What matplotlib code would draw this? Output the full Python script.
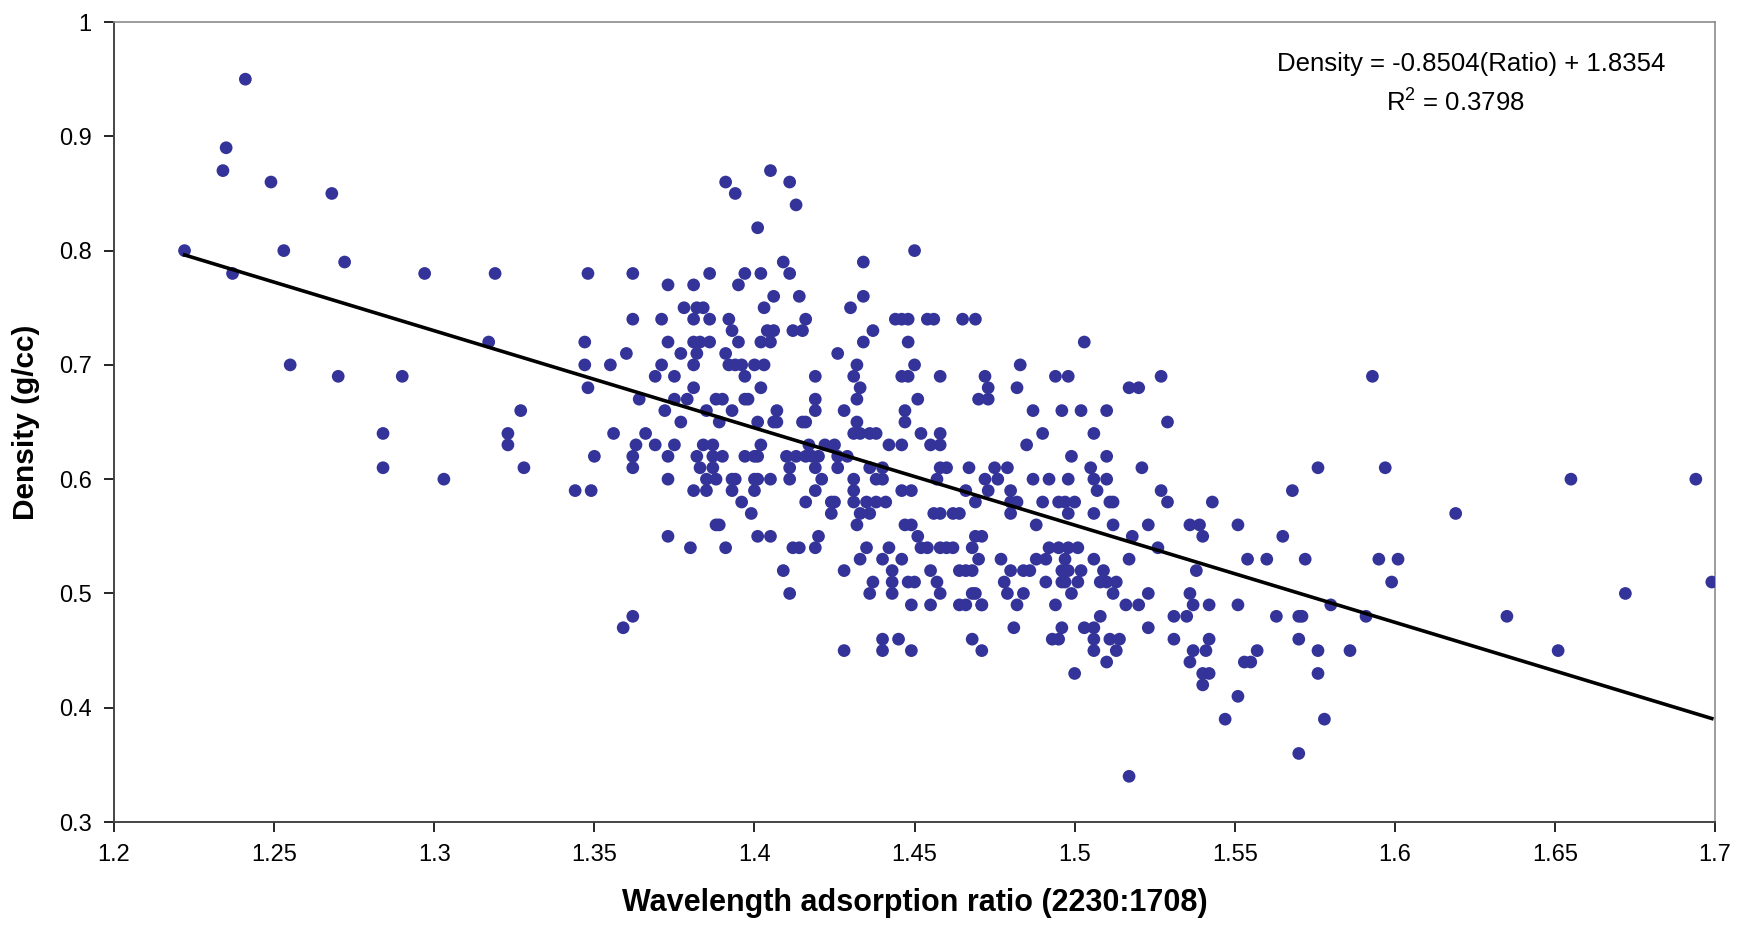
import matplotlib
matplotlib.use('Agg')
import matplotlib.pyplot as plt
import numpy as np

plt.rcParams['font.family'] = ['Liberation Sans', 'DejaVu Sans']

# absorption ratio (2230:1708) and measured density, one line per density step
ratio = [
    1.241,
    1.235,
    1.234, 1.405,
    1.249, 1.391, 1.411,
    1.268, 1.394,
    1.413,
    1.401,
    1.222, 1.253, 1.450,
    1.272, 1.409, 1.434,
    1.237, 1.297, 1.319, 1.348, 1.362, 1.386, 1.397, 1.402, 1.411,
    1.373, 1.381, 1.395,
    1.406, 1.414, 1.434,
    1.378, 1.382, 1.384, 1.403, 1.430,
    1.362, 1.371, 1.381, 1.386, 1.392, 1.416, 1.444, 1.446, 1.448, 1.454, 1.456, 1.465, 1.469,
    1.393, 1.404, 1.406, 1.412, 1.415, 1.437,
    1.317, 1.347, 1.373, 1.381, 1.383, 1.386, 1.395, 1.402, 1.405, 1.434, 1.448, 1.503,
    1.360, 1.377, 1.382, 1.391, 1.426,
    1.255, 1.347, 1.355, 1.371, 1.381, 1.392, 1.394, 1.396, 1.400, 1.403, 1.432, 1.450, 1.483,
    1.270, 1.290, 1.369, 1.375, 1.397, 1.419, 1.431, 1.446, 1.448, 1.458, 1.472, 1.494, 1.498, 1.527, 1.593,
    1.348, 1.381, 1.402, 1.433, 1.473, 1.482, 1.517, 1.520,
    1.364, 1.375, 1.379, 1.388, 1.390, 1.397, 1.398, 1.419, 1.432, 1.451, 1.470, 1.473,
    1.327, 1.372, 1.385, 1.393, 1.407, 1.419, 1.428, 1.447, 1.487, 1.496, 1.502, 1.510,
    1.377, 1.389, 1.401, 1.406, 1.407, 1.415, 1.416, 1.432, 1.447, 1.529,
    1.284, 1.323, 1.356, 1.366, 1.431, 1.433, 1.436, 1.438, 1.452, 1.458, 1.490, 1.506,
    1.323, 1.363, 1.369, 1.375, 1.384, 1.387, 1.402, 1.417, 1.422, 1.425, 1.442, 1.446, 1.455, 1.458, 1.485,
    1.350, 1.362, 1.373, 1.382, 1.387, 1.390, 1.397, 1.400, 1.401, 1.410, 1.413, 1.416, 1.418, 1.420,
    1.426, 1.429, 1.499, 1.510,
    1.284, 1.328, 1.362, 1.383, 1.387, 1.411, 1.419, 1.426, 1.436, 1.440, 1.458, 1.460, 1.467, 1.475,
    1.479, 1.505, 1.521, 1.576, 1.597,
    1.303, 1.373, 1.385, 1.388, 1.393, 1.394, 1.400, 1.401, 1.405, 1.411, 1.421, 1.431, 1.438, 1.440,
    1.457, 1.472, 1.476, 1.487, 1.492, 1.498, 1.506, 1.510, 1.655, 1.694,
    1.344, 1.349, 1.381, 1.385, 1.393, 1.400, 1.419, 1.431, 1.446, 1.449, 1.466, 1.473, 1.480, 1.507,
    1.527, 1.568,
    1.396, 1.416, 1.424, 1.425, 1.431, 1.435, 1.438, 1.441, 1.469, 1.480, 1.482, 1.490, 1.495, 1.497,
    1.500, 1.511, 1.512, 1.529, 1.543,
    1.399, 1.424, 1.433, 1.436, 1.456, 1.458, 1.462, 1.464, 1.480, 1.498, 1.506, 1.619,
    1.388, 1.389, 1.432, 1.447, 1.449, 1.488, 1.512, 1.523, 1.536, 1.539, 1.551,
    1.373, 1.401, 1.405, 1.420, 1.451, 1.469, 1.471, 1.518, 1.540, 1.565,
    1.380, 1.391, 1.412, 1.414, 1.419, 1.435, 1.442, 1.452, 1.454, 1.458, 1.460, 1.462, 1.468, 1.492,
    1.495, 1.498, 1.501, 1.526,
    1.433, 1.440, 1.446, 1.470, 1.477, 1.488, 1.491, 1.497, 1.506, 1.517, 1.554, 1.560, 1.572, 1.595, 1.601,
    1.409, 1.428, 1.443, 1.455, 1.464, 1.466, 1.468, 1.480, 1.484, 1.486, 1.496, 1.498, 1.502, 1.509, 1.538,
    1.437, 1.443, 1.448, 1.450, 1.457, 1.478, 1.491, 1.496, 1.497, 1.501, 1.508, 1.510, 1.513, 1.599, 1.699,
    1.411, 1.436, 1.443, 1.458, 1.468, 1.469, 1.479, 1.484, 1.499, 1.512, 1.523, 1.536, 1.672,
    1.449, 1.455, 1.464, 1.466, 1.471, 1.471, 1.482, 1.494, 1.516, 1.520, 1.537, 1.542, 1.551, 1.580,
    1.362, 1.508, 1.531, 1.535, 1.563, 1.570, 1.571, 1.591, 1.635,
    1.359, 1.481, 1.496, 1.503, 1.506, 1.523,
    1.440, 1.445, 1.468, 1.493, 1.495, 1.506, 1.511, 1.514, 1.531, 1.542, 1.570,
    1.428, 1.440, 1.449, 1.471, 1.506, 1.513, 1.537, 1.541, 1.557, 1.576, 1.586, 1.651,
    1.510, 1.536, 1.553, 1.555,
    1.500, 1.540, 1.542, 1.576,
    1.540,
    1.551,
    1.547, 1.578,
    1.570,
    1.517,
]

density = ([0.95] * 1 + [0.89] * 1 + [0.87] * 2 + [0.86] * 3 + [0.85] * 2 + [0.84] * 1
           + [0.82] * 1 + [0.80] * 3 + [0.79] * 3 + [0.78] * 9 + [0.77] * 3 + [0.76] * 3
           + [0.75] * 5 + [0.74] * 13 + [0.73] * 6 + [0.72] * 12 + [0.71] * 5 + [0.70] * 13
           + [0.69] * 15 + [0.68] * 8 + [0.67] * 12 + [0.66] * 12 + [0.65] * 10 + [0.64] * 12
           + [0.63] * 15 + [0.62] * 18 + [0.61] * 19 + [0.60] * 24 + [0.59] * 16 + [0.58] * 19
           + [0.57] * 12 + [0.56] * 11 + [0.55] * 10 + [0.54] * 18 + [0.53] * 15 + [0.52] * 15
           + [0.51] * 15 + [0.50] * 13 + [0.49] * 14 + [0.48] * 9 + [0.47] * 6 + [0.46] * 11
           + [0.45] * 12 + [0.44] * 4 + [0.43] * 4 + [0.42] * 1 + [0.41] * 1 + [0.39] * 2
           + [0.36] * 1 + [0.34] * 1)

assert len(ratio) == len(density)

# linear trendline
slope = -0.8504
intercept = 1.8354
r2 = 0.3798

x_ticks = [1.2, 1.25, 1.3, 1.35, 1.4, 1.45, 1.5, 1.55, 1.6, 1.65, 1.7]
y_ticks = [0.3, 0.4, 0.5, 0.6, 0.7, 0.8, 0.9, 1.0]

fig = plt.figure(figsize=(17.47, 9.30), dpi=100)
ax = fig.add_axes([0.0653, 0.1161, 0.9164, 0.8602])

ax.scatter(ratio, density, s=84, color='#333399', edgecolors='none', zorder=3)

xl = np.array([min(ratio), max(ratio)])
ax.plot(xl, slope * xl + intercept, color='black', lw=2.6, zorder=4)

ax.set_xlim(1.2, 1.7)
ax.set_ylim(0.3, 1.0)
ax.set_xticks(x_ticks)
ax.set_yticks(y_ticks)
ax.set_xticklabels(['{:g}'.format(v) for v in x_ticks])
ax.set_yticklabels(['{:g}'.format(v) for v in y_ticks])
ax.tick_params(direction='out', length=7, width=1.2, labelsize=17, pad=9)

for s in ['top', 'right']:
    ax.spines[s].set_color('#8c8c8c')
    ax.spines[s].set_linewidth(1.2)
for s in ['left', 'bottom']:
    ax.spines[s].set_color('#444444')
    ax.spines[s].set_linewidth(1.4)

ax.set_xlabel('Wavelength adsorption ratio (2230:1708)', fontsize=22, fontweight='bold', labelpad=16)
ax.set_ylabel('Density (g/cc)', fontsize=21.5, fontweight='bold', labelpad=14)

ax.text(1.624, 0.963, 'Density = -0.8504(Ratio) + 1.8354', fontsize=18.5, ha='center', va='center')
ax.text(1.619, 0.929, '$\\mathregular{R^2}$ = 0.3798', fontsize=18.5, ha='center', va='center')

fig.savefig('out.png', dpi=100)
